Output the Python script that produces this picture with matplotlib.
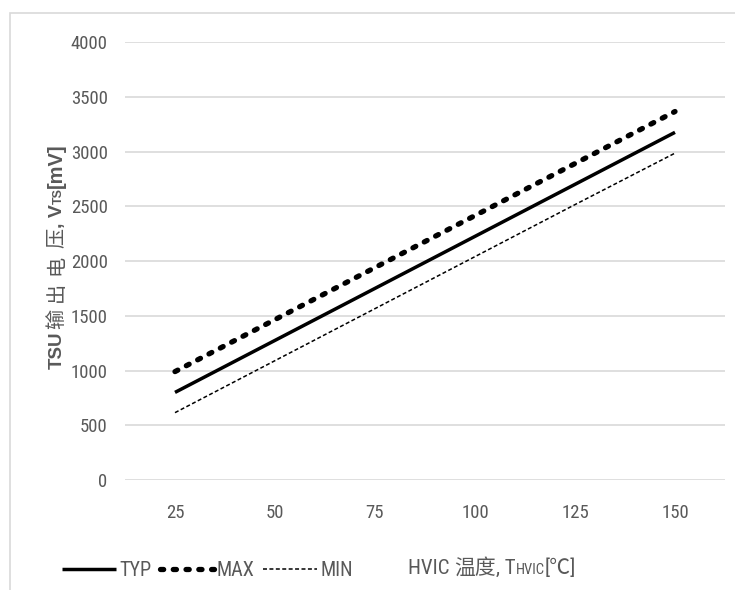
import matplotlib
matplotlib.use('Agg')
import matplotlib.pyplot as plt
from matplotlib.patches import Rectangle
from matplotlib.lines import Line2D
from matplotlib import font_manager

# data
temps = [25, 50, 75, 100, 125, 150]
typ_mv = [800, 1275, 1750, 2225, 2700, 3175]
max_mv = [990, 1465, 1940, 2415, 2890, 3365]
min_mv = [615, 1090, 1565, 2040, 2515, 2985]
y_ticks = [0, 500, 1000, 1500, 2000, 2500, 3000, 3500, 4000]
series_names = ['TYP', 'MAX', 'MIN']

gray = '#595959'
cond = ['Roboto Condensed', 'Noto Sans CJK SC', 'DejaVu Sans']
cjk = ['Noto Sans CJK SC', 'DejaVu Sans']
wide = ['Liberation Sans', 'Noto Sans CJK SC', 'DejaVu Sans']

# line styles
typ_style = dict(color='black', linewidth=2.5, solid_capstyle='butt')
max_style = dict(color='black', linewidth=3.8, dashes=(0.6, 1.82),
                 dash_capstyle='round')
min_style = dict(color='black', linewidth=1.1, dashes=(2.6, 1.6))

W, H = 735, 590
fig = plt.figure(figsize=(W / 100, H / 100), dpi=100)
fig.patch.set_facecolor('white')

# outer chart border, only left and top edges are inside the crop
fig.patches.append(Rectangle((10 / W, -0.1), 1.2, (H - 13) / H + 0.1,
                             transform=fig.transFigure, fill=False,
                             edgecolor='#d9d9d9', linewidth=1.2))

ax = fig.add_axes([125 / W, 1 - 480 / H, 600 / W, (480 - 42) / H])
ax.plot(temps, typ_mv, **typ_style)
ax.plot(temps, max_mv, **max_style)
ax.plot(temps, min_mv, **min_style)

ax.set_xlim(12.5, 162.5)
ax.set_ylim(0, 4000)
ax.set_xticks(temps)
ax.set_yticks(y_ticks)
ax.grid(axis='y', color='#d9d9d9', linewidth=1.2)
ax.grid(axis='x', visible=False)
ax.set_axisbelow(True)
for s in ax.spines.values():
    s.set_visible(False)
ax.tick_params(length=0, colors=gray, labelsize=13.5)
ax.tick_params(axis='y', pad=12.5)
ax.tick_params(axis='x', pad=17)
for lab in ax.get_xticklabels() + ax.get_yticklabels():
    lab.set_family(cond)

fig.canvas.draw()
renderer = fig.canvas.get_renderer()


def run_text(runs, x, y, rotation=0):
    """place text pieces (text, size, family, weight, gap_px) one after another
    on one baseline, centred on x (horizontal) or y (vertical), pixel coords
    from the top-left corner"""
    widths = []
    for txt, size, fam, weight, gap in runs:
        t = fig.text(0, 0, txt, fontsize=size, family=fam, weight=weight)
        widths.append(t.get_window_extent(renderer).width + gap)
        t.remove()
    pos = -sum(widths) / 2
    for (txt, size, fam, weight, gap), w in zip(runs, widths):
        if rotation == 0:
            fx, fy = (x + pos) / W, 1 - y / H
        else:
            fx, fy = x / W, 1 - (y - pos) / H
        fig.text(fx, fy, txt, fontsize=size, family=fam, weight=weight,
                 color=gray, rotation=rotation, rotation_mode='anchor',
                 ha='left', va='baseline')
        pos += w


# y axis title, Chinese characters are spaced out in the reference
run_text([('TSU', 13.5, wide, 'bold', 2),
          ('输', 14.5, cjk, 'normal', 7), ('出', 14.5, cjk, 'normal', 7),
          ('电', 14.5, cjk, 'normal', 7), ('压', 14.5, cjk, 'normal', 0),
          (', V', 14, wide, 'bold', 0), ('TS', 9, wide, 'bold', 0),
          ('[mV]', 14.5, wide, 'bold', 0)], 62, 256, rotation=90)
# x axis title
run_text([('HVIC ', 15, cond, 'normal', 0), ('温度', 15, cjk, 'normal', 0),
          (', T', 15, cond, 'normal', 0), ('HVIC', 10.5, cond, 'normal', 0),
          ('[℃]', 15, cond, 'normal', 0)], 492, 574)

handles = [Line2D([], [], **typ_style), Line2D([], [], **max_style),
           Line2D([], [], **min_style)]
leg = fig.legend(handles, series_names, loc='center left',
                 bbox_to_anchor=(62 / W, 1 - 571 / H), ncol=3, frameon=False,
                 handlelength=2.7, handletextpad=0.15, columnspacing=0.4,
                 borderaxespad=0, borderpad=0,
                 prop=font_manager.FontProperties(family=cond, size=14.5))
for t in leg.get_texts():
    t.set_color(gray)

fig.savefig('out.png', dpi=100, facecolor='white')
